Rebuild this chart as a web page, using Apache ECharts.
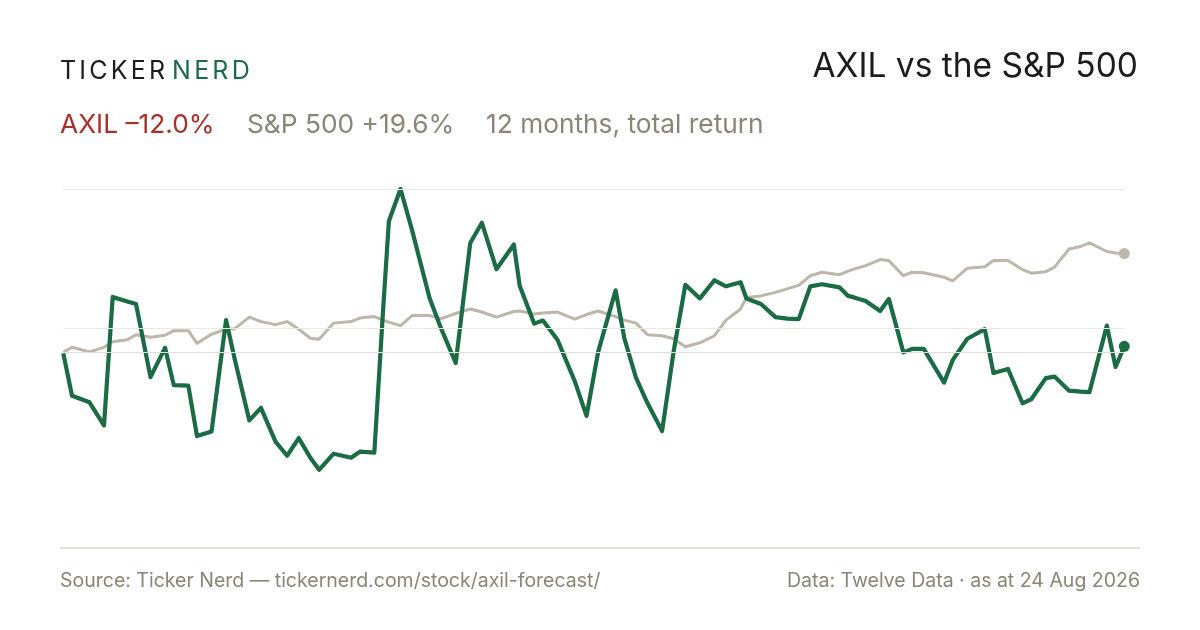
<!DOCTYPE html>
<html>
<head>
<meta charset="utf-8">
<script src="https://cdn.jsdelivr.net/npm/echarts@6/dist/echarts.min.js"></script>
<style>
  html, body { margin: 0; padding: 0; background: #fff; }
  #chart { width: 1200px; height: 630px; }
</style>
</head>
<body>
<div id="chart"></div>
<script>
// days since start of the 12 month window
var days = [0, 3, 9, 14, 17, 22, 25, 30, 35, 38, 43, 46, 51, 56, 59, 64, 68, 73, 77, 81,
  85, 88, 93, 99, 102, 107, 110, 112, 116, 120, 126, 130, 135, 140, 144, 149, 155, 157, 162, 165,
  170, 176, 180, 184, 190, 193, 197, 201, 206, 210, 214, 219, 224, 228, 233, 235, 240, 245, 249, 253,
  257, 261, 267, 270, 272, 276, 281, 284, 289, 292, 296, 303, 306, 311, 317, 320, 325, 330, 333, 338,
  341, 346, 350, 353, 359, 362, 365];

// total return, %
var axil = [-0.2, -8.6, -9.9, -14.5, 11.0, 10.1, 9.6, -4.9, 0.9, -6.5, -6.6, -16.6, -15.7, 6.4, -1.4, -13.5, -11.0, -17.7, -20.5, -17.0,
  -20.9, -23.3, -20.1, -20.9, -19.7, -19.9, 8.3, 26.0, 32.4, 24.2, 10.8, 4.7, -2.1, 21.7, 25.7, 16.5, 21.4, 13.2, 5.7, 6.3,
  2.5, -5.8, -12.6, 0.1, 12.3, 2.8, -5.0, -10.1, -15.6, 0.3, 13.4, 10.7, 14.3, 13.1, 13.9, 10.7, 9.6, 7.0, 6.7, 6.6,
  13.1, 13.5, 12.9, 11.2, 10.9, 10.2, 8.2, 10.6, 0.0, 0.7, 0.7, -6.0, -1.5, 2.7, 4.6, -4.1, -3.3, -10.1, -9.3, -5.1,
  -4.8, -7.6, -7.8, -7.9, 5.3, -2.9, 1.2];

var spx = [0.0, 1.0, 0.1, 1.0, 2.1, 2.5, 3.5, 3.0, 3.4, 4.3, 4.3, 1.8, 3.6, 4.6, 4.7, 7.0, 6.1, 5.5, 6.1, 4.6,
  2.8, 2.6, 5.8, 6.1, 6.8, 7.1, 6.4, 6.0, 5.3, 7.3, 7.3, 6.7, 7.7, 8.6, 8.0, 7.0, 8.1, 8.2, 7.6, 7.8,
  8.0, 6.6, 7.5, 8.2, 7.1, 6.4, 5.8, 3.5, 3.3, 2.7, 1.1, 1.9, 3.3, 6.4, 8.6, 10.9, 11.2, 11.9, 12.6, 13.3,
  15.2, 15.9, 15.4, 16.1, 16.5, 17.2, 18.4, 18.2, 15.2, 15.9, 15.8, 14.9, 14.2, 16.7, 17.0, 18.2, 18.2, 16.4, 15.7, 16.0,
  16.9, 20.5, 21.0, 21.7, 20.0, 19.7, 19.6];

var guideLevels = [32.4, 4.7, 0];

var GREEN = '#1b6b45';
var SAND = '#bdb6ab';
var MUTED = '#8a8576';
var INK = '#1c1c1c';
var FONT = 'Inter';

function pairs(ys) {
  var out = [];
  for (var i = 0; i < days.length; i++) {
    out.push([days[i], ys[i]]);
  }
  return out;
}

// wordmark with tracking, one text per letter
function trackedText(parts, x, y, size, spacing) {
  var ctx = document.createElement('canvas').getContext('2d');
  ctx.font = '400 ' + size + 'px ' + FONT;
  var els = [];
  for (var p = 0; p < parts.length; p++) {
    var chars = parts[p].text.split('');
    for (var c = 0; c < chars.length; c++) {
      els.push({
        type: 'text', x: x, y: y,
        style: { text: chars[c], fontFamily: FONT, fontSize: size, fill: parts[p].color }
      });
      x += ctx.measureText(chars[c]).width + spacing;
    }
    x += ctx.measureText(' ').width * 0.55;
  }
  return els;
}

var last = days.length - 1;

var myChart = echarts.init(document.getElementById('chart'), null, { renderer: 'canvas' });

var graphics = trackedText([{ text: 'TICKER', color: INK }, { text: 'NERD', color: GREEN }], 60, 59, 25, 3.2);

graphics.push(
  {
    type: 'text', right: 62, top: 50,
    style: { text: 'AXIL vs the S&P 500', fontFamily: FONT, fontSize: 33.5, fill: INK }
  },
  {
    type: 'text', left: 60, top: 112,
    style: { text: 'AXIL \u201312.0%', fontFamily: FONT, fontSize: 26.3, fill: '#a8302b' }
  },
  {
    type: 'text', left: 247, top: 112,
    style: { text: 'S&P 500 +19.6%', fontFamily: FONT, fontSize: 26.3, fill: MUTED }
  },
  {
    type: 'text', left: 486, top: 112,
    style: { text: '12 months, total return', fontFamily: FONT, fontSize: 26.3, fill: MUTED }
  },
  {
    type: 'line',
    shape: { x1: 60, y1: 548, x2: 1140, y2: 548 },
    style: { stroke: '#dcd8cd', lineWidth: 1.5 }
  },
  {
    type: 'text', left: 60, top: 571,
    style: { text: 'Source: Ticker Nerd \u2014 tickernerd.com/stock/axil-forecast/', fontFamily: FONT, fontSize: 19.5, fill: MUTED }
  },
  {
    type: 'text', right: 60, top: 571,
    style: { text: 'Data: Twelve Data \u00b7 as at 24 Aug 2026', fontFamily: FONT, fontSize: 19.5, fill: MUTED }
  }
);

var option = {
  backgroundColor: '#ffffff',
  animation: false,
  grid: {
    left: 63.3,
    right: 75.7,
    top: 189,
    bottom: 82
  },
  xAxis: {
    type: 'value',
    min: 0,
    max: 365,
    show: false
  },
  yAxis: {
    type: 'value',
    min: -38.8,
    max: 32.4,
    show: false
  },
  graphic: graphics,
  series: [
    {
      // guide lines
      type: 'line',
      data: [],
      z: 1,
      silent: true,
      markLine: {
        silent: true,
        symbol: ['none', 'none'],
        label: { show: false },
        data: guideLevels.map(function(v, i) {
          return {
            yAxis: v,
            lineStyle: { color: i === 2 ? '#e2ded6' : '#ece9e3', width: 1.2, type: 'solid' }
          };
        })
      }
    },
    {
      name: 'S&P 500',
      type: 'line',
      data: pairs(spx),
      showSymbol: false,
      z: 2,
      lineStyle: { color: SAND, width: 3, join: 'round' },
      itemStyle: { color: SAND }
    },
    {
      name: 'AXIL',
      type: 'line',
      data: pairs(axil),
      showSymbol: false,
      z: 3,
      lineStyle: { color: GREEN, width: 4.2, join: 'round' },
      itemStyle: { color: GREEN }
    },
    {
      type: 'scatter',
      z: 4,
      symbolSize: 11,
      data: [
        { value: [days[last], spx[last]], itemStyle: { color: SAND, opacity: 1 } },
        { value: [days[last], axil[last]], itemStyle: { color: GREEN, opacity: 1 } }
      ]
    }
  ]
};

myChart.setOption(option);
</script>
</body>
</html>
